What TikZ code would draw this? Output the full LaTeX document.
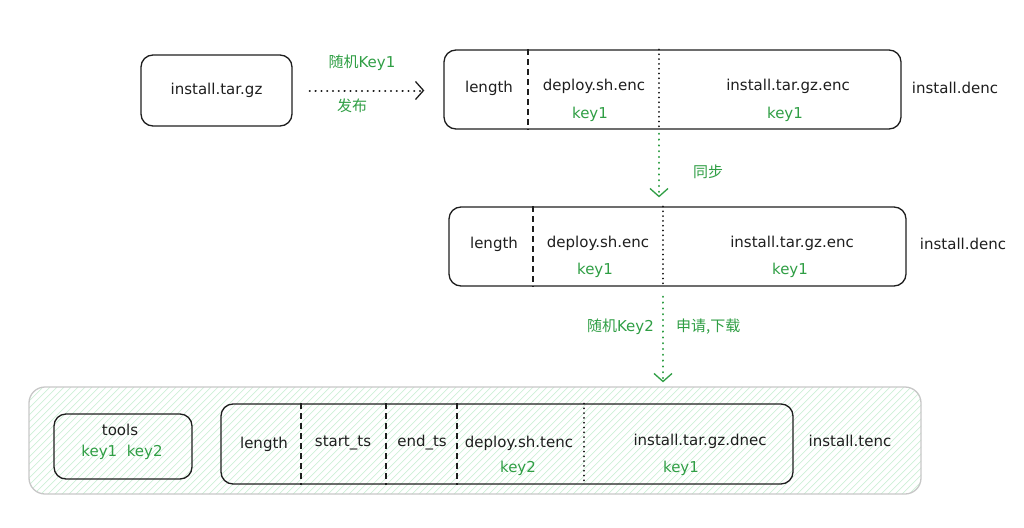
\documentclass[tikz,border=0pt]{standalone}
\usepackage{fontspec}
\setmainfont{DejaVu Sans}
\newfontfamily\cjk{Noto Sans CJK SC}
\usetikzlibrary{arrows.meta}
\definecolor{grn}{HTML}{2F9E44}
\definecolor{hatchc}{HTML}{CDEFD6}
\definecolor{ink}{HTML}{1E1E1E}
\begin{document}
\begin{tikzpicture}[x=1pt,y=-1pt,
  box/.style={draw=ink, line width=1.3pt, rounded corners=12pt, inner sep=0pt},
  lbl/.style={font=\fontsize{15}{17}\selectfont, text=ink, inner sep=1pt},
  klbl/.style={font=\fontsize{15}{17}\selectfont, text=grn, inner sep=1pt},
  dashdiv/.style={draw=ink, line width=1.3pt, dash pattern=on 6pt off 4pt},
  dotdiv/.style={draw=ink, line width=1.6pt, line cap=round, dash pattern=on 0.3pt off 4.5pt},
  dotarrow/.style={line width=2pt, line cap=round, dash pattern=on 0.3pt off 5.5pt, -{Straight Barb[length=8pt,width=18pt,line width=1.3pt]}}
]
\useasboundingbox (0,0) rectangle (1024,527);

% background group with hatch
\begin{scope}
  \clip[rounded corners=16pt] (29,387) rectangle (921,494);
  \foreach \i in {-120,-113,...,930}
    \draw[hatchc, line width=0.7pt] (\i,494) -- (\i+107,387);
\end{scope}
\node[draw=black!22, line width=1.3pt, rounded corners=16pt, minimum width=892pt, minimum height=107pt] (G) at (475,440.5) {};

% top box
\node[box, lbl, minimum width=151pt, minimum height=71pt] (A) at (216.5,90.5) {install.tar.gz};

% box B
\node[box, minimum width=457pt, minimum height=79pt] (B) at (672.5,89.5) {};
\coordinate (Bd1) at (528,0);
\coordinate (Bd2) at (659,0);
\draw[dashdiv] (B.north -| Bd1) -- (B.south -| Bd1);
\draw[dotdiv] (B.north -| Bd2) -- (B.south -| Bd2);
\node[lbl] (Bl) at (489,88) {length};
\node[lbl] (Bdep) at (594,86) {deploy.sh.enc};
\node[klbl] (Bk1) at (590,114) {key1};
\node[lbl] (Binst) at (788,86) {install.tar.gz.enc};
\node[klbl] (Bk2) at (785,114) {key1};
\node[lbl] (Bname) at (955,88) {install.denc};

% arrow A -> B
\draw[dotarrow, draw=ink] (A.east) ++(17,0) coordinate (Aout) -- ([xshift=-19pt]B.west |- Aout);
\node[klbl] (Ka) at (362,63) {{\cjk 随机}Key1};
\node[klbl] (Kb) at (352,106) {\cjk 发布};

% box C
\node[box, minimum width=457pt, minimum height=79pt] (C) at (677.5,246.5) {};
\coordinate (Cd1) at (533,0);
\coordinate (Cd2) at (663,0);
\draw[dashdiv] (C.north -| Cd1) -- (C.south -| Cd1);
\draw[dotdiv] (C.north -| Cd2) -- (C.south -| Cd2);
\node[lbl] (Cl) at (494,244) {length};
\node[lbl] (Cdep) at (598,243) {deploy.sh.enc};
\node[klbl] (Ck1) at (595,270) {key1};
\node[lbl] (Cinst) at (792,243) {install.tar.gz.enc};
\node[klbl] (Ck2) at (790,270) {key1};
\node[lbl] (Cname) at (963,244) {install.denc};

% arrow B -> C
\draw[dotarrow, draw=grn] ([yshift=-4pt]B.south -| Bd2) -- ([yshift=9pt]C.north -| Bd2);
\node[klbl] (S1) at (708,172) {\cjk 同步};

% box D
\node[box, minimum width=572pt, minimum height=80pt] (D) at (507,444) {};

% arrow C -> D
\draw[dotarrow, draw=grn] ([yshift=-10pt]C.south -| Cd2) -- ([yshift=21pt]D.north -| Cd2);
\node[klbl, anchor=east] (S2) at (655,327) {{\cjk 随机}Key2};
\node[klbl, anchor=west] (S3) at (675,327) {\cjk 申请,下载};

% tools box
\node[box, minimum width=138pt, minimum height=65pt] (T) at (123,446.5) {};
\node[lbl] (Tt) at (120,430) {tools};
\node[klbl] (Tk) at (122,452) {key1\ \ key2};

% box D dividers
\coordinate (Dd1) at (301,0);
\coordinate (Dd2) at (386,0);
\coordinate (Dd3) at (457,0);
\coordinate (Dd4) at (584,0);
\draw[dashdiv] (D.north -| Dd1) -- (D.south -| Dd1);
\draw[dashdiv] (D.north -| Dd2) -- (D.south -| Dd2);
\draw[dashdiv] (D.north -| Dd3) -- (D.south -| Dd3);
\draw[dotdiv] (D.north -| Dd4) -- (D.south -| Dd4);
\node[lbl] (Dl) at (264,444) {length};
\node[lbl] (Ds) at (343,443) {start\_ts};
\node[lbl] (De) at (422,443) {end\_ts};
\node[lbl] (Ddep) at (519,443) {deploy.sh.tenc};
\node[klbl] (Dk2) at (518,468) {key2};
\node[lbl] (Dinst) at (700,441) {install.tar.gz.dnec};
\node[klbl] (Dk1) at (681,468) {key1};
\node[lbl] (Dname) at (850,441) {install.tenc};
\end{tikzpicture}
\end{document}
